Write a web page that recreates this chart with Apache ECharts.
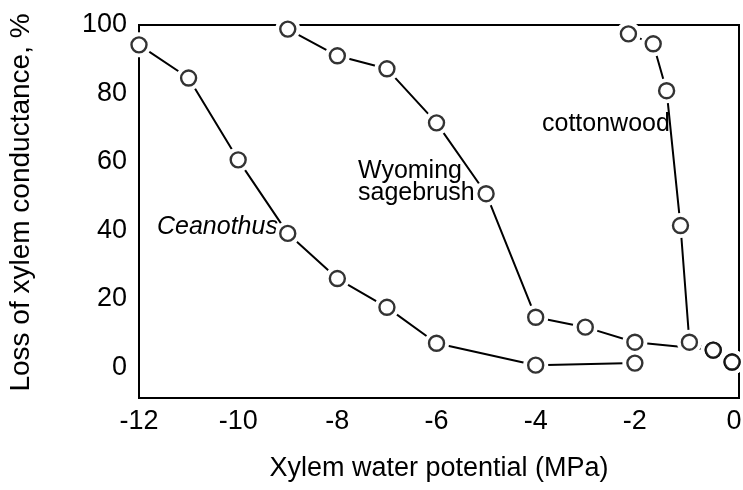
<!DOCTYPE html>
<html>
<head>
<meta charset="utf-8">
<title>Loss of xylem conductance</title>
<script src="https://cdn.jsdelivr.net/npm/echarts@6/dist/echarts.min.js"></script>
<style>
  html, body { margin: 0; padding: 0; background: #fff; }
  #chart { width: 743px; height: 490px; }
</style>
</head>
<body>
<div id="chart"></div>
<script>
// Vulnerability curves: xylem water potential (MPa) vs. loss of conductance (%)
const xTicks = [-12, -10, -8, -6, -4, -2, 0];
const yTicks = [0, 20, 40, 60, 80, 100];

const ceanothusX = [-12, -11, -10, -9, -8, -7, -6, -4, -2];
const ceanothusY = [94.2, 84.5, 60.6, 39.1, 25.9, 17.5, 7.0, 0.6, 1.2];

const sagebrushX = [-9, -8, -7, -6, -5, -4, -3, -2, -0.42, -0.04];
const sagebrushY = [98.8, 91, 87.2, 71.4, 50.7, 14.6, 11.7, 7.3, 5.0, 1.5];

const cottonwoodX = [-2.13, -1.63, -1.36, -1.08, -0.9, -0.42, -0.04];
const cottonwoodY = [97.4, 94.5, 80.8, 41.4, 7.3, 5.0, 1.5];

const FONT = "'Liberation Sans', Arial, Helvetica, sans-serif";

function pairs(xs, ys) {
  return xs.map((x, i) => [x, ys[i]]);
}

const curves = [
  pairs(ceanothusX, ceanothusY),
  pairs(sagebrushX, sagebrushY),
  pairs(cottonwoodX, cottonwoodY)
];

// Each curve: a line whose white halo symbols open a gap around every point,
// then open circles drawn on top.
const lineSeries = curves.map(d => ({
  type: 'line',
  data: d,
  z: 2,
  symbol: 'circle',
  symbolSize: 25,
  itemStyle: { color: '#fff', borderWidth: 0 },
  lineStyle: { color: '#000', width: 2 },
  silent: true,
  animation: false
}));

const markerSeries = curves.map(d => ({
  type: 'scatter',
  data: d,
  z: 3,
  symbol: 'circle',
  symbolSize: 15,
  itemStyle: { color: '#fff', borderColor: '#000', borderWidth: 2.4 },
  silent: true,
  animation: false
}));

const chart = echarts.init(document.getElementById('chart'), null, { renderer: 'canvas' });

chart.setOption({
  animation: false,
  backgroundColor: '#fff',
  grid: {
    left: 139, right: 4, top: 25, bottom: 92,
    outerBoundsMode: 'none',
    containLabel: false,
    show: true, borderColor: '#000', borderWidth: 2, backgroundColor: 'transparent'
  },
  xAxis: {
    type: 'value',
    min: -12,
    max: 0.1,
    name: 'Xylem water potential (MPa)',
    nameLocation: 'middle',
    nameGap: 57,
    nameTextStyle: { fontFamily: FONT, fontSize: 27, color: '#000' },
    axisLine: { show: false },
    axisTick: { show: false },
    splitLine: { show: false },
    axisLabel: {
      customValues: xTicks,
      fontFamily: FONT, fontSize: 27, color: '#000', margin: 10
    }
  },
  yAxis: {
    type: 'value',
    min: -9,
    max: 100,
    name: 'Loss of xylem conductance, %',
    nameLocation: 'middle',
    nameGap: 104,
    nameTextStyle: { fontFamily: FONT, fontSize: 28, color: '#000', padding: [0, 0, 0, 18] },
    axisLine: { show: false },
    axisTick: { show: false },
    splitLine: { show: false },
    axisLabel: {
      customValues: yTicks,
      fontFamily: FONT, fontSize: 27, color: '#000', margin: 12
    }
  },
  series: lineSeries.concat(markerSeries),
  graphic: [
    {
      type: 'text', left: 157, top: 215, silent: true,
      style: { text: 'Ceanothus', fontFamily: FONT, fontSize: 25, fontStyle: 'italic', fill: '#000' }
    },
    {
      type: 'text', left: 358, top: 159, silent: true,
      style: { text: 'Wyoming\nsagebrush', fontFamily: FONT, fontSize: 25, lineHeight: 22, fill: '#000' }
    },
    {
      type: 'text', left: 542, top: 112, silent: true,
      style: { text: 'cottonwood', fontFamily: FONT, fontSize: 25, fill: '#000' }
    }
  ]
});
</script>
</body>
</html>
